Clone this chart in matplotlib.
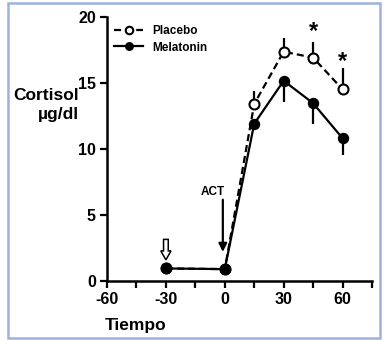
import matplotlib
matplotlib.use("Agg")
import matplotlib.pyplot as plt
from matplotlib.patches import Rectangle, FancyArrow

plt.rcParams['font.family'] = ['Liberation Sans', 'DejaVu Sans']
plt.rcParams['font.weight'] = 'bold'

# Data
time = [-30, 0, 15, 30, 45, 60]
placebo = [0.95, 0.9, 13.4, 17.35, 16.9, 14.5]
placebo_err = [0.0, 0.0, 1.0, 1.05, 1.2, 1.6]
melatonin = [0.95, 0.9, 11.9, 15.15, 13.45, 10.8]
melatonin_err = [0.0, 0.0, 0.5, 1.6, 1.6, 1.3]
star_times = [45, 60]
star_values = [18.9, 16.6]
xticks = [-60, -30, 0, 30, 60]
yticks = [0, 5, 10, 15, 20]

fig = plt.figure(figsize=(3.92, 3.40), dpi=100)
ax = fig.add_axes([0.273, 0.1735, 0.676, 0.7775])

lw = 1.6
ms = 7.2
# placebo dashed, open circles, upward error
ax.errorbar(time, placebo, yerr=[[0]*len(placebo_err), placebo_err], fmt='none',
            ecolor='black', elinewidth=lw, capsize=0, zorder=2)
ax.plot(time, placebo, linestyle=(0, (3.2, 1.8)), color='black', lw=lw,
        marker='o', markersize=ms, markerfacecolor='white', markeredgecolor='black',
        markeredgewidth=1.5, zorder=3, label='Placebo')
# melatonin solid, filled circles, downward error
ax.errorbar(time, melatonin, yerr=[melatonin_err, [0]*len(melatonin_err)], fmt='none',
            ecolor='black', elinewidth=lw, capsize=0, zorder=2)
ax.plot(time, melatonin, linestyle='-', color='black', lw=lw,
        marker='o', markersize=ms, markerfacecolor='black', markeredgecolor='black',
        zorder=4, label='Melatonin')

for t, v in zip(star_times, star_values):
    ax.text(t, v, '*', ha='center', va='center', fontsize=17, fontweight='bold')

# ACT arrow
ax.text(-6, 6.7, 'ACT', ha='center', va='center', fontsize=8.5, fontweight='bold')
ax.annotate('', xy=(-1, 2.2), xytext=(-1, 6.15),
            arrowprops=dict(arrowstyle='-|>', color='black', lw=1.6,
                            mutation_scale=12, shrinkA=0, shrinkB=0))
# hollow arrow at -30
ax.add_patch(FancyArrow(-30, 3.15, 0, -1.55, width=2.4, head_width=5.2,
                        head_length=0.68, length_includes_head=True,
                        facecolor='white', edgecolor='black', lw=1.1, zorder=5))

ax.set_xlim(-60, 75)
ax.set_ylim(0, 20)
ax.set_xticks(xticks)
ax.set_xticks([-45, -15, 15, 45, 75], minor=True)
ax.set_yticks(yticks)
ax.set_xticklabels([str(v) for v in xticks], fontsize=11.5, fontweight='bold')
ax.set_yticklabels([str(v) for v in yticks], fontsize=11.5, fontweight='bold')
ax.tick_params(which='both', direction='out', length=5, width=1.6, pad=3)
for s in ['top', 'right']:
    ax.spines[s].set_visible(False)
for s in ['left', 'bottom']:
    ax.spines[s].set_linewidth(1.8)

leg = ax.legend(loc='upper left', bbox_to_anchor=(0.028, 0.967), frameon=False,
                fontsize=8.5, handlelength=2.4, handletextpad=0.8, markerscale=0.75,
                borderpad=0, borderaxespad=0, labelspacing=0.35)
for t in leg.get_texts():
    t.set_fontweight('bold')

fig.text(0.2015, 0.72, 'Cortisol', ha='right', va='center', fontsize=12.5, fontweight='bold')
fig.text(0.2015, 0.662, 'µg/dl', ha='right', va='center', fontsize=12.5, fontweight='bold')
fig.text(0.347, 0.044, 'Tiempo', ha='center', va='center', fontsize=12.5, fontweight='bold')

# blue frame
fig.patches.append(Rectangle((8/392, 2/340), (380-8)/392, (337-2)/340, transform=fig.transFigure,
                             fill=False, edgecolor='#9fb1dc', lw=1.8))

fig.savefig('out.png', dpi=100)
